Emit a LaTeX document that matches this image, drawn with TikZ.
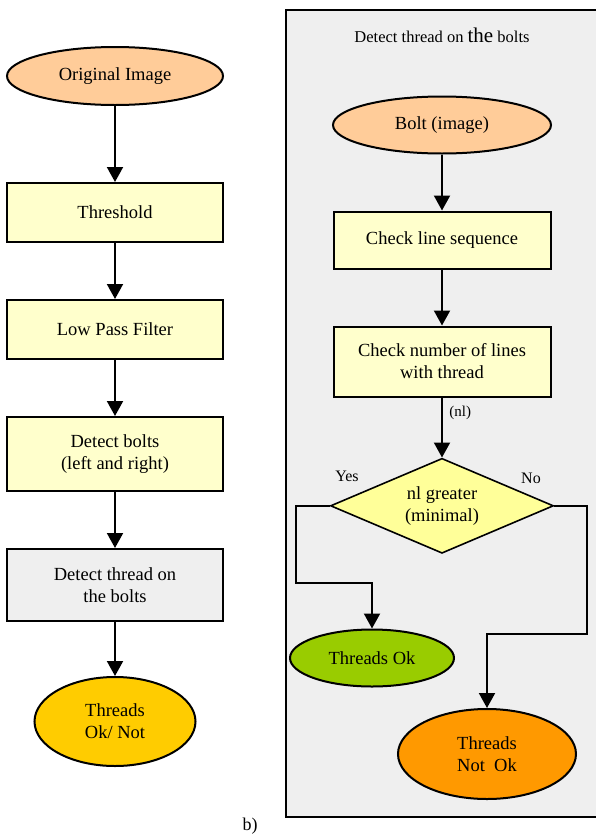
\documentclass[tikz,border=0pt]{standalone}
\usepackage{fontspec}
\setmainfont{Liberation Serif}
\usetikzlibrary{positioning,shapes.geometric,arrows.meta}

\definecolor{peach}{HTML}{FFCC99}
\definecolor{boxyellow}{HTML}{FFFFCC}
\definecolor{diayellow}{HTML}{FFFF99}
\definecolor{panelgray}{HTML}{EFEFEF}
\definecolor{gold}{HTML}{FFCC00}
\definecolor{okgreen}{HTML}{99CC00}
\definecolor{notorange}{HTML}{FF9900}

\begin{document}
\begin{tikzpicture}[x=1pt, y=-1pt, font=\fontsize{18.5}{22}\selectfont,
	block/.style = { rectangle, draw=black, line width=2pt, fill=boxyellow,
	minimum width=216pt, align=center},
	term/.style = { ellipse, draw=black, line width=2pt, align=center},
	decision/.style = { diamond, draw=black, line width=1.6pt, fill=diayellow,
	aspect=2.3, inner sep=0pt, align=center},
	arr/.style = { line width=2pt, -{Triangle[width=16pt,length=15pt]}},
	tag/.style = { font=\fontsize{16}{19}\selectfont} ]

  \useasboundingbox (0,0) rectangle (595,836);

  % left: the whole process
  \node [name=orig, term, fill=peach, minimum width=216pt, minimum height=58pt]
	at (115,76) {Original Image};
  \node [name=thresh, block, minimum height=59pt, below=76pt of orig] {Threshold};
  \node [name=lpf, block, minimum height=59pt, below=56pt of thresh] {Low Pass Filter};
  \node [name=bolts, block, minimum height=74pt, below=56pt of lpf]
	{Detect bolts\\(left and right)};
  \node [name=thread, block, fill=panelgray, minimum height=72pt, below=56pt of bolts]
	{Detect thread on\\the bolts};
  \node [name=result, term, fill=gold, minimum width=161pt, minimum height=89pt,
	below=54pt of thread] {Threads\\Ok/ Not};

  \draw [arr] (orig) -- (thresh);
  \draw [arr] (thresh) -- (lpf);
  \draw [arr] (lpf) -- (bolts);
  \draw [arr] (bolts) -- (thread);
  \draw [arr] (thread) -- (result);

  \node [name=partb, font=\fontsize{18}{21}\selectfont] at (250,826) {b)};

  % right: detect thread on the bolts
  \filldraw [fill=panelgray, line width=2pt] (600,10) -- (286,10) -- (286,817) -- (600,817);
  \node [name=title, font=\fontsize{16.5}{19}\selectfont] at (442,35)
	{Detect thread on {\fontsize{21}{24}\selectfont the} bolts};

  \node [name=bolt, term, fill=peach, minimum width=218pt, minimum height=57pt]
	at (442,125) {Bolt (image)};
  \node [name=seq, block, minimum width=217pt, minimum height=57pt, below=56pt of bolt]
	{Check line sequence};
  \node [name=count, block, minimum width=217pt, minimum height=70pt, below=56pt of seq]
	{Check number of lines\\with thread};
  \node [name=cmp, decision, minimum width=223pt, minimum height=95pt, below=60pt of count]
	{nl greater\\(minimal)};
  \node [name=ok, term, fill=okgreen, minimum width=164pt, minimum height=57pt]
	at (372,658) {Threads Ok};
  \node [name=notok, term, fill=notorange, minimum width=178pt, minimum height=90pt]
	at (487,754) {Threads\\Not~~Ok};

  \coordinate (yesbend) at (296,583);
  \coordinate (nobend) at (587,634);

  \draw [arr] (bolt) -- (seq);
  \draw [arr] (seq) -- (count);
  \draw [arr] (count) -- node [pos=0.25, right=3pt, font=\fontsize{15}{18}\selectfont] {(nl)} (cmp);
  \draw [arr] (cmp.west) -| (yesbend) -| (ok.north);
  \draw [arr] (cmp.east) -| (nobend) -| (notok.north);

  \node [name=yes, tag] at (347,476) {Yes};
  \node [name=no, tag] at (531,478) {No};
\end{tikzpicture}
\end{document}
